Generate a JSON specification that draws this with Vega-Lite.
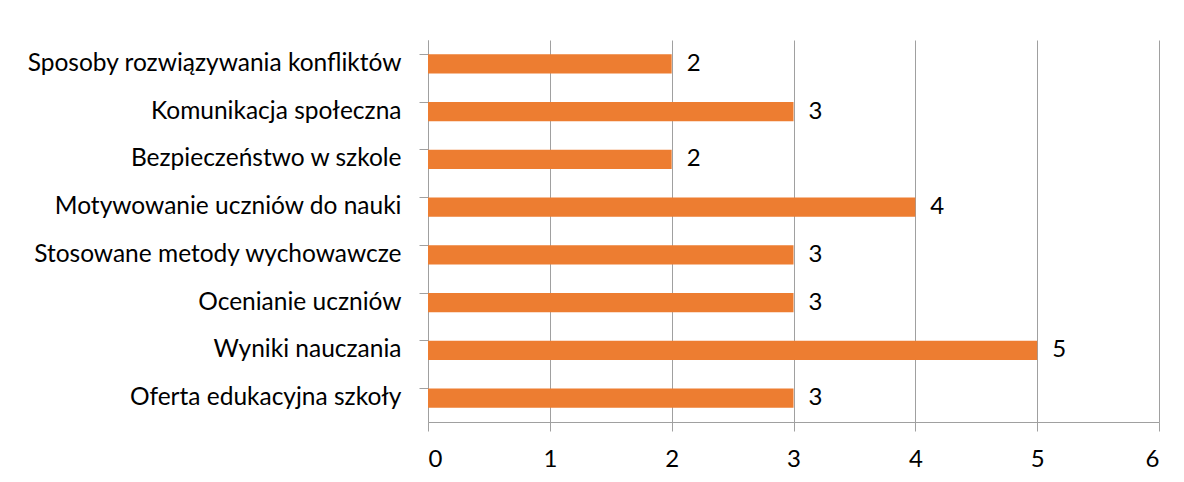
{
  "$schema": "https://vega.github.io/schema/vega-lite/v6.json",
  "autosize": "none",
  "width": 731,
  "height": 382,
  "padding": {"left": 428, "top": 40, "right": 25, "bottom": 60},
  "background": "white",
  "data": {
    "values": [
      {"kategoria": "Sposoby rozwiązywania konfliktów", "wartosc": 2},
      {"kategoria": "Komunikacja społeczna", "wartosc": 3},
      {"kategoria": "Bezpieczeństwo w szkole", "wartosc": 2},
      {"kategoria": "Motywowanie uczniów do nauki", "wartosc": 4},
      {"kategoria": "Stosowane metody wychowawcze", "wartosc": 3},
      {"kategoria": "Ocenianie uczniów", "wartosc": 3},
      {"kategoria": "Wyniki nauczania", "wartosc": 5},
      {"kategoria": "Oferta edukacyjna szkoły", "wartosc": 3}
    ]
  },
  "encoding": {
    "y": {
      "field": "kategoria",
      "type": "nominal",
      "sort": null,
      "scale": {"paddingInner": 0.6, "paddingOuter": 0.3},
      "axis": {
        "title": null,
        "bandPosition": 0,
        "grid": false,
        "domainColor": "#a0a0a0",
        "tickColor": "#a0a0a0",
        "tickSize": 9,
        "labelPadding": 18,
        "labelFont": "Lato",
        "labelFontSize": 24.5,
        "labelColor": "#000000",
        "labelLimit": 500
      }
    },
    "x": {
      "field": "wartosc",
      "type": "quantitative",
      "scale": {"domain": [0, 6], "nice": false},
      "axis": {
        "title": null,
        "values": [0, 1, 2, 3, 4, 5, 6],
        "format": "d",
        "grid": true,
        "gridColor": "#a0a0a0",
        "domainColor": "#a0a0a0",
        "tickColor": "#a0a0a0",
        "tickSize": 9,
        "labelPadding": 16,
        "labelFont": "Lato",
        "labelFontSize": 24,
        "labelColor": "#000000"
      }
    }
  },
  "layer": [
    {"mark": {"type": "bar", "color": "#ED7D31"}},
    {
      "mark": {"type": "text", "align": "left", "baseline": "middle", "dx": 15, "font": "Lato", "fontSize": 24, "color": "#000000"},
      "encoding": {"text": {"field": "wartosc", "type": "quantitative"}}
    }
  ],
  "config": {"view": {"stroke": null}}
}
